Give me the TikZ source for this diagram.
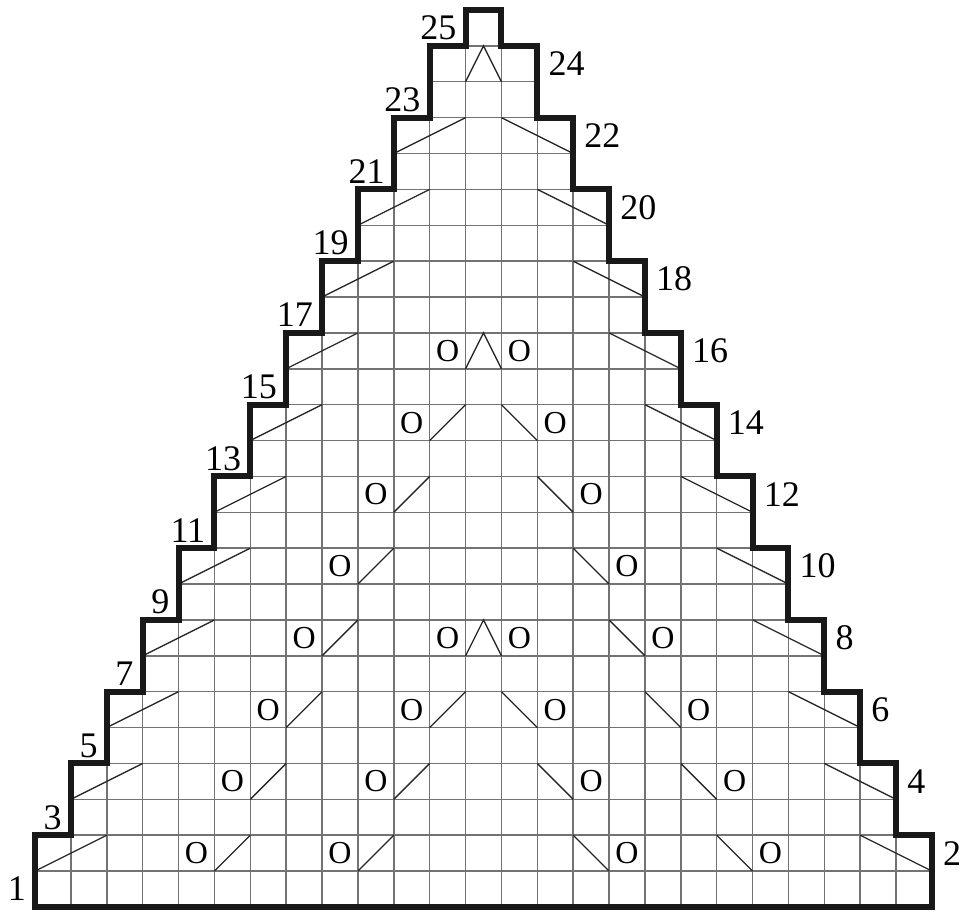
\documentclass[tikz,border=0pt]{standalone}
\usepackage{fontspec}
\setmainfont{Liberation Serif}
\begin{document}
\begin{tikzpicture}[x=35.88pt,y=35.88pt,
  gridline/.style={line width=1.5pt, draw=black!55},
  outline/.style={line width=6pt, line join=miter, draw=black!90},
  stitchline/.style={line width=1.3pt, draw=black!85},
  rowlabel/.style={font=\fontsize{36}{36}\selectfont, inner sep=0pt},
  yarnover/.style={font=\fontsize{32}{32}\selectfont, inner sep=0pt}]
\useasboundingbox (-35pt,-5pt) rectangle (929pt,907pt);
% horizontal grid lines
\foreach \k in {1,...,24} {
  \pgfmathtruncatemacro\m{ceil((\k+1)/2)}
  \draw[gridline] ({\m-1},\k) -- ({26-\m},\k);
}
% vertical grid lines
\foreach \j in {1,...,24} {
  \pgfmathtruncatemacro\h{2*min(\j,25-\j)}
  \draw[gridline] (\j,0) -- (\j,\h);
}
% edge decreases
\foreach \m in {1,...,11} {
  \pgfmathtruncatemacro\r{2*\m}
  \draw[stitchline] ({\m-1},{\r-1}) -- ({\m+1},\r);
  \draw[stitchline] ({24-\m},\r) -- ({26-\m},{\r-1});
}
% right-leaning decreases
\foreach \c/\r in {5/2,9/2,6/4,10/4,7/6,11/6,8/8,9/10,10/12,11/14} {
  \draw[stitchline] (\c,{\r-1}) -- ({\c+1},\r);
}
% left-leaning decreases
\foreach \c/\r in {15/2,19/2,14/4,18/4,13/6,17/6,16/8,15/10,14/12,13/14} {
  \draw[stitchline] (\c,\r) -- ({\c+1},{\r-1});
}
% central double decreases
\foreach \r in {8,16,24} {
  \draw[stitchline] (12,{\r-1}) -- (12.5,\r) -- (13,{\r-1});
}
% yarn overs
\foreach \c/\r in {4/2,8/2,16/2,20/2,5/4,9/4,15/4,19/4,6/6,10/6,14/6,18/6,
                   7/8,11/8,13/8,17/8,8/10,16/10,9/12,15/12,10/14,14/14,11/16,13/16} {
  \node[yarnover] (o-\c-\r) at ({\c+0.5},{\r-0.5}) {O};
}
% row labels
\foreach \m in {1,...,13} {
  \pgfmathtruncatemacro\r{2*\m-1}
  \node[rowlabel, anchor=east, xshift=-9pt] (L\r) at ({\m-1},{\r-0.5}) {\r};
}
\foreach \m in {1,...,12} {
  \pgfmathtruncatemacro\r{2*\m}
  \node[rowlabel, anchor=west, xshift=11pt] (L\r) at ({26-\m},{\r-0.5}) {\r};
}
% outline
\draw[outline] (0,0) -- (25,0) -- (25,2) -- (24,2) -- (24,4) -- (23,4) -- (23,6)
  -- (22,6) -- (22,8) -- (21,8) -- (21,10) -- (20,10) -- (20,12) -- (19,12)
  -- (19,14) -- (18,14) -- (18,16) -- (17,16) -- (17,18) -- (16,18) -- (16,20)
  -- (15,20) -- (15,22) -- (14,22) -- (14,24) -- (13,24) -- (13,25) -- (12,25)
  -- (12,24) -- (11,24) -- (11,22) -- (10,22) -- (10,20) -- (9,20) -- (9,18)
  -- (8,18) -- (8,16) -- (7,16) -- (7,14) -- (6,14) -- (6,12) -- (5,12)
  -- (5,10) -- (4,10) -- (4,8) -- (3,8) -- (3,6) -- (2,6) -- (2,4) -- (1,4)
  -- (1,2) -- (0,2) -- cycle;
\end{tikzpicture}
\end{document}
